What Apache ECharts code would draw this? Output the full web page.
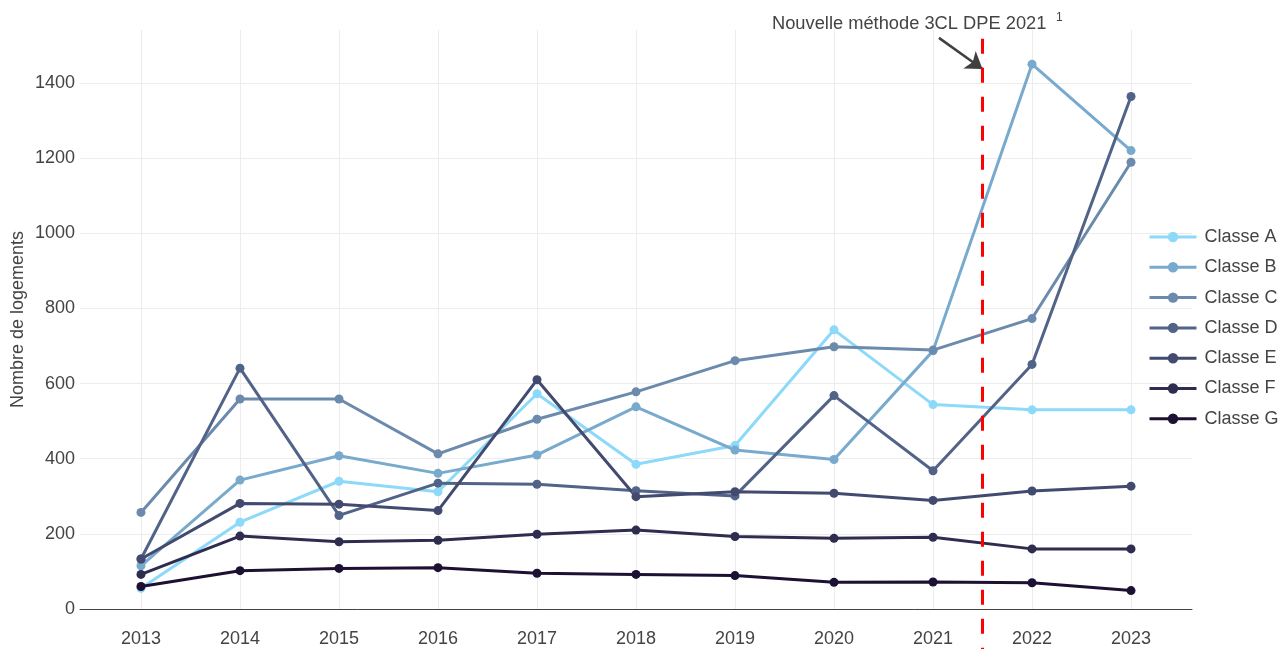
<!DOCTYPE html>
<html>
<head>
<meta charset="utf-8">
<script src="https://cdn.jsdelivr.net/npm/echarts@6/dist/echarts.min.js"></script>
<style>
  html, body { margin: 0; padding: 0; background: #fff; }
  #chart { width: 1283px; height: 649px; }
</style>
</head>
<body>
<div id="chart"></div>
<script>
// années
const years = [2013, 2014, 2015, 2016, 2017, 2018, 2019, 2020, 2021, 2022, 2023]

// nombre de logements par classe
const classeA = [55, 231, 340, 312, 573, 385, 435, 743, 544, 530, 530]
const classeB = [115, 343, 408, 361, 410, 538, 423, 398, 687, 1450, 1220]
const classeC = [257, 559, 559, 413, 505, 578, 661, 698, 689, 773, 1189]
const classeD = [133, 641, 249, 335, 332, 315, 301, 568, 368, 651, 1364]
const classeE = [133, 281, 279, 262, 610, 299, 312, 308, 289, 314, 327]
const classeF = [92, 194, 179, 183, 199, 210, 193, 188, 191, 160, 160]
const classeG = [60, 102, 108, 110, 95, 92, 89, 71, 72, 70, 49]

const classNames = ['Classe A', 'Classe B', 'Classe C', 'Classe D', 'Classe E', 'Classe F', 'Classe G']
const classColors = ['#8cd9f9', '#78aacd', '#6b8aac', '#526388', '#424a6f', '#2e2c4f', '#1c1033']

const yTicks = [0, 200, 400, 600, 800, 1000, 1200, 1400]

// annotation : changement de méthode DPE
const methodYear = 2021.5
const arrowFrom = [2021.06, 1520]
const arrowTo = [2021.5, 1437]

const font = 'Liberation Sans, Arial, sans-serif'
const textColor = '#444'
const gridColor = '#ececec'

// axe x un peu élargi de chaque côté (comme plotly)
const xMin = 2012.384
const xMax = 2023.616
const yMax = 1541

const chart = echarts.init(document.getElementById('chart'))

const allValues = [classeA, classeB, classeC, classeD, classeE, classeF, classeG]
const series = allValues.map((vals, i) => {
  return {
    name: classNames[i],
    type: 'line',
    xAxisIndex: 0,
    yAxisIndex: 0,
    data: years.map((y, j) => [y, vals[j]]),
    symbol: 'circle',
    symbolSize: 9,
    showSymbol: true,
    color: classColors[i],
    lineStyle: { width: 3, color: classColors[i] },
    itemStyle: { color: classColors[i] },
    emphasis: { disabled: true },
    animation: false,
    clip: false
  }
})

// flèche de l'annotation
series[0].markLine = {
  silent: true,
  symbol: ['none', 'arrow'],
  symbolSize: 16,
  label: { show: false },
  lineStyle: { color: '#404040', width: 2.5, type: 'solid' },
  emphasis: { disabled: true },
  animation: false,
  data: [[{ coord: arrowFrom }, { coord: arrowTo }]]
}

const option = {
  backgroundColor: '#fff',
  animation: false,
  grid: [
    // grille des données
    { left: 80, right: 91, top: 30, bottom: 40, containLabel: false, outerBoundsMode: 'none' },
    // grille des années (graduations verticales)
    { left: 141, right: 152, top: 30, bottom: 40, containLabel: false, outerBoundsMode: 'none' }
  ],
  legend: {
    orient: 'vertical',
    left: 1148,
    top: 228,
    padding: 0,
    itemWidth: 47,
    itemHeight: 13,
    itemGap: 12.3,
    data: classNames,
    lineStyle: { width: 3 },
    textStyle: { fontFamily: font, fontSize: 18, color: textColor, padding: [0, 0, 0, 3] }
  },
  xAxis: [
    {
      type: 'value',
      gridIndex: 0,
      min: xMin,
      max: xMax,
      axisLine: { show: true, onZero: false, lineStyle: { color: '#444', width: 1 } },
      axisTick: { show: false },
      axisLabel: { show: false },
      splitLine: { show: false }
    },
    {
      type: 'value',
      gridIndex: 1,
      min: years[0],
      max: years[years.length - 1],
      interval: 1,
      axisLine: { show: false },
      axisTick: { show: false },
      axisLabel: {
        margin: 21,
        fontFamily: font,
        fontSize: 18,
        color: textColor,
        formatter: v => String(v)
      },
      splitLine: {
        show: true,
        showMinLine: true,
        showMaxLine: true,
        lineStyle: { color: gridColor, width: 1 }
      }
    }
  ],
  yAxis: [
    {
      type: 'value',
      gridIndex: 0,
      min: 0,
      max: yMax,
      interval: 200,
      name: 'Nombre de logements',
      nameLocation: 'middle',
      nameGap: 53,
      nameMoveOverlap: false,
      nameRotate: 90,
      nameTextStyle: { fontFamily: font, fontSize: 18, color: textColor },
      axisLine: { show: false },
      axisTick: { show: false },
      axisLabel: {
        showMaxLabel: false,
        margin: 5,
        fontFamily: font,
        fontSize: 18,
        color: textColor,
        formatter: v => (yTicks.indexOf(v) >= 0 ? String(v) : '')
      },
      splitLine: {
        show: true,
        showMinLine: false,
        showMaxLine: false,
        lineStyle: { color: gridColor, width: 1 }
      }
    },
    {
      type: 'value',
      gridIndex: 1,
      min: 0,
      max: yMax,
      show: false,
      splitLine: { show: false }
    }
  ],
  series: series
}

chart.setOption(option)

// ligne verticale rouge + texte de l'annotation
const lineTop = chart.convertToPixel({ gridIndex: 0 }, [methodYear, 1518])
chart.setOption({
  graphic: [
    {
      type: 'line',
      silent: true,
      z: 100,
      shape: { x1: lineTop[0], y1: lineTop[1], x2: lineTop[0], y2: 649 },
      style: { stroke: '#ff0000', lineWidth: 3, lineDash: [15, 14] }
    },
    {
      type: 'text',
      silent: true,
      z: 100,
      style: {
        x: 772,
        y: 24,
        text: 'Nouvelle méthode 3CL DPE 2021',
        font: '18.3px ' + font,
        fill: textColor,
        verticalAlign: 'middle'
      }
    },
    {
      type: 'text',
      silent: true,
      z: 100,
      style: {
        x: 1056,
        y: 18,
        text: '1',
        font: '12px ' + font,
        fill: textColor,
        verticalAlign: 'middle'
      }
    }
  ]
})
</script>
</body>
</html>
